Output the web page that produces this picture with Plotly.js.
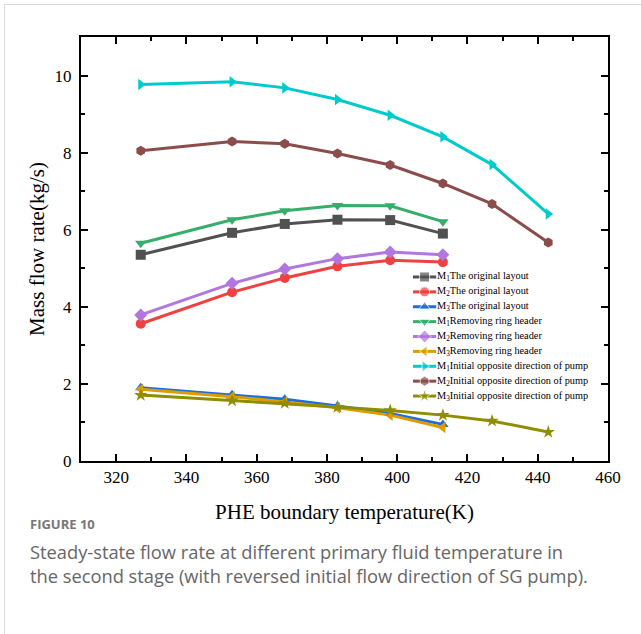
<!DOCTYPE html>
<html>
<head>
<meta charset="utf-8">
<script src="https://cdn.plot.ly/plotly-3.0.1.min.js"></script>
<style>
  html, body { margin: 0; padding: 0; background: #fff; overflow: hidden; width: 641px; height: 634px; }
  #card { position: absolute; left: 4px; top: 4px; width: 637px; height: 630px; border-top: 1px solid #dcdcdc; border-left: 1px solid #dcdcdc; box-sizing: border-box; }
  #chart { position: absolute; left: 0; top: 0; width: 641px; height: 634px; }
</style>
</head>
<body>
<div id="card"></div>
<div id="chart"></div>
<script>
// ---- data ----
const tempShort = [327, 353, 368, 383, 398, 413];
const tempLong  = [327, 353, 368, 383, 398, 413, 427, 443];

const m1Original = [5.35, 5.92, 6.15, 6.26, 6.25, 5.90];
const m2Original = [3.56, 4.38, 4.75, 5.05, 5.21, 5.16];
const m3Original = [1.90, 1.72, 1.60, 1.43, 1.23, 0.95];

const m1Removing = [5.65, 6.26, 6.49, 6.63, 6.62, 6.21];
const m2Removing = [3.79, 4.61, 4.98, 5.25, 5.42, 5.35];
const m3Removing = [1.86, 1.67, 1.53, 1.38, 1.19, 0.87];

const m1Opposite = [9.77, 9.84, 9.68, 9.38, 8.97, 8.41, 7.69, 6.41];
const m2Opposite = [8.05, 8.29, 8.23, 7.98, 7.68, 7.20, 6.67, 5.67];
const m3Opposite = [1.71, 1.57, 1.50, 1.40, 1.31, 1.19, 1.04, 0.75];

const seriesNames = [
  "M<sub>1</sub>The original layout",
  "M<sub>2</sub>The original layout",
  "M<sub>3</sub>The original layout",
  "M<sub>1</sub>Removing ring header",
  "M<sub>2</sub>Removing ring header",
  "M<sub>3</sub>Removing ring header",
  "M<sub>1</sub>Initial opposite direction of pump",
  "M<sub>2</sub>Initial opposite direction of pump",
  "M<sub>3</sub>Initial opposite direction of pump"
];

const xTitle = "PHE boundary temperature(K)";
const yTitle = "Mass flow rate(kg/s)";
const figLabel = "FIGURE 10";
const captionLines = [
  "Steady-state flow rate at different primary fluid temperature in",
  "the second stage (with reversed initial flow direction of SG pump)."
];

// ---- styles ----
const colors = ["#515151", "#F14040", "#1A6FDF", "#37AD6B", "#B177DE", "#E09B00", "#00CBCC", "#8B4C4C", "#8E8E00"];
const symbols = ["square", "circle", "triangle-up", "triangle-down", "diamond", "triangle-left", "triangle-right", "hexagon", "star"];
const xs = [tempShort, tempShort, tempShort, tempShort, tempShort, tempShort, tempLong, tempLong, tempLong];
const ys = [m1Original, m2Original, m3Original, m1Removing, m2Removing, m3Removing, m1Opposite, m2Opposite, m3Opposite];
const markerSize = 10;

const traces = ys.map((y, i) => ({
  x: xs[i], y: y, type: "scatter", mode: "lines+markers", name: seriesNames[i],
  showlegend: false,
  line: { color: colors[i], width: 3 },
  marker: { color: colors[i], symbol: symbols[i], size: markerSize }
}));

// ---- compact legend drawn on an overlay axis (Plotly's own legend has a 19px minimum row height) ----
const legX0 = 0.630, legX1 = 0.674, legTextX = 0.674, legY0 = 0.434, legDy = 0.0351;
const serif = "Liberation Serif, Times New Roman, serif";
const legendAnnotations = [];
seriesNames.forEach((name, i) => {
  const yy = legY0 - i * legDy;
  traces.push({
    x: [legX0, (legX0 + legX1) / 2, legX1], y: [yy, yy, yy],
    xaxis: "x2", yaxis: "y2", type: "scatter", mode: "lines+markers", showlegend: false,
    hoverinfo: "skip", cliponaxis: false,
    line: { color: colors[i], width: 3 },
    marker: { color: colors[i], symbol: symbols[i], size: [0, markerSize, 0] }
  });
  legendAnnotations.push({
    text: name, xref: "x2", yref: "y2", x: legTextX, y: yy,
    xanchor: "left", yanchor: "middle", showarrow: false, borderpad: 0,
    font: { family: serif, size: 10.3, color: "#000" }
  });
});

const layout = {
  width: 641, height: 634,
  margin: { l: 81, r: 33, t: 37, b: 173 },
  paper_bgcolor: "rgba(0,0,0,0)", plot_bgcolor: "rgba(0,0,0,0)",
  showlegend: false,
  xaxis: {
    range: [310, 460], dtick: 20, tick0: 320,
    showline: true, linecolor: "#000", linewidth: 2, mirror: "ticks",
    ticks: "inside", ticklen: 7, tickwidth: 2, tickcolor: "#000",
    minor: { dtick: 10, ticks: "inside", ticklen: 4, tickwidth: 2, tickcolor: "#000" },
    showgrid: false, zeroline: false,
    tickfont: { family: "Liberation Serif", size: 17, color: "#000" },
    title: { text: xTitle, font: { family: serif, size: 21, color: "#000" }, standoff: 18 }
  },
  yaxis: {
    range: [0, 11], dtick: 2, tick0: 0,
    showline: true, linecolor: "#000", linewidth: 2, mirror: "ticks",
    ticks: "inside", ticklen: 7, tickwidth: 2, tickcolor: "#000",
    minor: { dtick: 1, ticks: "inside", ticklen: 4, tickwidth: 2, tickcolor: "#000" },
    showgrid: false, zeroline: false,
    tickfont: { family: "Liberation Serif", size: 17, color: "#000" },
    ticklabelstandoff: 4,
    title: { text: yTitle, font: { family: serif, size: 21, color: "#000" }, standoff: 4 }
  },
  xaxis2: { overlaying: "x", anchor: "y2", range: [0, 1], visible: false, fixedrange: true },
  yaxis2: { overlaying: "y", anchor: "x2", range: [0, 1], visible: false, fixedrange: true },
  annotations: [
    { text: "<b>" + figLabel + "</b>", xref: "paper", yref: "paper", x: -0.101, y: -0.148,
      xanchor: "left", yanchor: "middle", showarrow: false,
      font: { family: "Open Sans, sans-serif", size: 13, color: "#777" } },
    { text: captionLines[0], xref: "paper", yref: "paper", x: -0.101, y: -0.214,
      xanchor: "left", yanchor: "middle", showarrow: false,
      font: { family: "Open Sans, sans-serif", size: 18.3, color: "#666" } },
    { text: captionLines[1], xref: "paper", yref: "paper", x: -0.101, y: -0.271,
      xanchor: "left", yanchor: "middle", showarrow: false,
      font: { family: "Open Sans, sans-serif", size: 18.3, color: "#666" } }
  ].concat(legendAnnotations)
};

Plotly.newPlot("chart", traces, layout, { displayModeBar: false, staticPlot: true });
</script>
</body>
</html>
